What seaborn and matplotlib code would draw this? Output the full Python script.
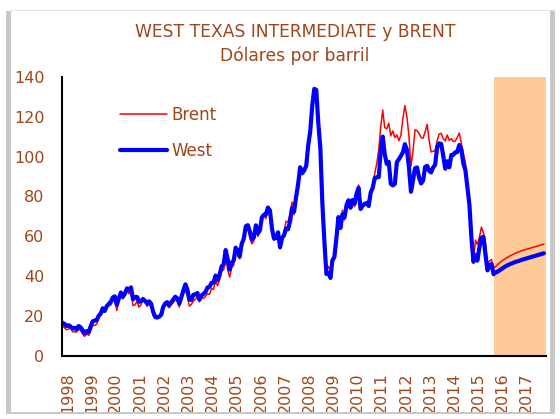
import numpy as np
import pandas as pd
import matplotlib
matplotlib.use("Agg")
import matplotlib.pyplot as plt
import matplotlib.transforms as mtransforms
from matplotlib.patches import Rectangle
import seaborn as sns

# monthly averages, USD per barrel, Jan 1998 - Nov 2015 observed, Dec 2015 - Dec 2017 projected
wti_hist = [
    16.7, 16.1, 15.0, 15.4, 14.9, 13.7, 14.1, 13.4, 15.0, 14.4, 12.9, 11.3,   # 1998
    12.5, 12.0, 14.7, 17.3, 17.8, 17.9, 20.1, 21.3, 23.9, 22.6, 25.0, 26.1,   # 1999
    27.2, 29.4, 29.9, 25.7, 28.8, 31.8, 29.7, 31.3, 33.9, 33.1, 34.4, 28.4,   # 2000
    29.6, 29.6, 27.2, 27.4, 28.6, 27.6, 26.4, 27.4, 26.2, 22.2, 19.6, 19.3,   # 2001
    19.7, 20.7, 24.4, 26.3, 27.0, 25.5, 26.9, 28.4, 29.7, 28.9, 26.3, 29.4,   # 2002
    32.9, 35.9, 33.5, 28.3, 28.1, 30.7, 30.8, 31.6, 28.3, 30.3, 31.1, 32.1,   # 2003
    34.3, 34.7, 36.7, 36.7, 40.3, 38.0, 40.7, 44.9, 45.9, 53.1, 48.5, 43.3,   # 2004
    46.8, 48.0, 54.3, 53.0, 49.8, 56.3, 58.7, 65.0, 65.6, 62.4, 58.3, 59.4,   # 2005
    65.5, 61.6, 62.9, 69.4, 70.8, 70.9, 74.4, 73.0, 63.8, 58.9, 59.1, 62.0,   # 2006
    54.5, 59.3, 60.4, 63.9, 63.5, 67.5, 74.1, 72.4, 79.9, 86.2, 94.6, 91.7,   # 2007
    93.0, 95.4, 105.5, 112.6, 125.4, 133.9, 133.4, 116.7, 104.1, 76.6, 57.3, 41.1,  # 2008
    41.7, 39.1, 47.9, 49.6, 59.0, 69.6, 64.2, 71.1, 69.5, 75.6, 78.1, 74.3,   # 2009
    78.2, 76.4, 81.2, 84.3, 73.7, 75.3, 76.3, 76.6, 75.2, 81.9, 84.3, 89.2,   # 2010
    89.6, 89.7, 102.9, 110.0, 101.3, 96.3, 97.3, 86.3, 85.5, 86.3, 97.2, 98.6,  # 2011
    100.3, 102.2, 106.2, 103.3, 94.7, 82.3, 87.9, 94.1, 94.5, 89.5, 86.5, 87.9,  # 2012
    94.8, 95.3, 92.9, 92.0, 94.5, 95.8, 104.6, 106.6, 106.3, 100.5, 93.9, 97.6,  # 2013
    94.6, 100.8, 100.8, 102.1, 102.2, 105.8, 103.6, 96.5, 93.2, 84.4, 75.8, 59.3,  # 2014
    47.2, 50.6, 47.8, 54.5, 59.3, 59.8, 50.9, 42.9, 45.5, 46.2, 41.0,          # 2015
]
wti_proj = [
    41.8,                                                                     # Dec 2015
    42.3, 43.0, 43.7, 44.4, 45.0, 45.5, 46.0, 46.4, 46.8, 47.2, 47.5, 47.8,   # 2016
    48.2, 48.5, 48.8, 49.1, 49.4, 49.7, 50.0, 50.3, 50.6, 50.9, 51.2, 51.5,   # 2017
]
brent_hist = [
    15.1, 14.1, 13.2, 13.4, 14.4, 12.2, 12.1, 12.0, 13.4, 12.7, 11.0, 9.8,    # 1998
    11.1, 10.3, 12.5, 15.3, 15.3, 15.9, 19.0, 20.3, 22.5, 22.0, 24.6, 25.5,   # 1999
    25.5, 27.8, 27.5, 22.8, 27.6, 29.8, 28.6, 30.4, 32.9, 31.1, 32.6, 25.3,   # 2000
    25.6, 27.5, 24.5, 25.6, 28.5, 27.8, 24.9, 25.7, 25.7, 20.5, 18.9, 18.7,   # 2001
    19.4, 20.3, 23.7, 25.7, 25.4, 24.1, 25.7, 26.7, 28.4, 27.5, 24.5, 28.2,   # 2002
    31.2, 32.8, 30.3, 25.0, 25.8, 27.6, 28.4, 29.8, 27.1, 29.6, 28.8, 29.8,   # 2003
    31.2, 30.9, 33.8, 33.4, 37.6, 35.2, 38.2, 42.7, 43.2, 49.8, 43.1, 39.6,   # 2004
    44.5, 45.5, 53.1, 51.9, 48.7, 54.3, 57.5, 63.9, 63.8, 59.5, 56.2, 57.6,   # 2005
    63.9, 59.9, 62.3, 70.4, 70.8, 68.8, 73.6, 73.2, 62.5, 58.0, 58.8, 62.0,   # 2006
    53.7, 57.6, 62.1, 67.5, 67.2, 71.3, 77.2, 70.8, 77.1, 82.3, 92.4, 90.9,   # 2007
    92.2, 94.8, 103.3, 110.2, 124.6, 133.5, 133.9, 113.0, 98.1, 72.8, 53.2, 41.6,  # 2008
    44.9, 43.2, 46.8, 50.8, 58.6, 69.3, 65.8, 73.1, 68.2, 73.9, 77.5, 75.2,   # 2009
    77.0, 74.8, 79.9, 85.8, 77.0, 75.7, 75.4, 77.1, 78.4, 83.0, 86.0, 91.5,   # 2010
    96.5, 103.7, 114.6, 123.3, 114.5, 113.9, 116.7, 110.4, 112.8, 109.5, 110.8, 107.9,  # 2011
    110.7, 119.3, 125.5, 119.8, 110.3, 95.2, 102.6, 113.4, 113.0, 111.5, 109.5, 109.2,  # 2012
    112.3, 116.1, 108.5, 102.3, 102.6, 102.9, 107.9, 111.3, 111.6, 109.1, 107.8, 110.8,  # 2013
    108.1, 108.9, 107.5, 107.8, 109.5, 111.8, 106.8, 101.6, 97.1, 87.4, 79.4, 62.3,  # 2014
    47.8, 58.1, 55.9, 59.5, 64.6, 61.7, 56.8, 46.5, 47.6, 48.4, 44.3,          # 2015
]
brent_proj = [
    44.8,                                                                     # Dec 2015
    45.8, 46.7, 47.5, 48.2, 48.9, 49.5, 50.1, 50.6, 51.1, 51.6, 52.0, 52.4,   # 2016
    52.8, 53.1, 53.4, 53.7, 54.0, 54.3, 54.6, 54.9, 55.2, 55.5, 55.8, 56.0,   # 2017
]
years = list(range(1998, 2018))
proj_start = "2015-11-01"

TXT = "#a0461a"
SHADE = "#fdca98"

dates = pd.date_range("1998-01-01", periods=len(wti_hist) + len(wti_proj), freq="MS")
df = pd.DataFrame({
    "fecha": dates,
    "Brent": brent_hist + brent_proj,
    "West": wti_hist + wti_proj,
})

sns.set_style("white")
plt.rcParams["font.family"] = ["DejaVu Sans"]

fig = plt.figure(figsize=(5.6, 4.19), dpi=100)
ax = fig.add_axes([0.1116, 0.1504, 0.8634, 0.6665])

ax.axvspan(pd.Timestamp(proj_start), pd.Timestamp("2018-01-01"), color=SHADE, lw=0, zorder=0)
sns.lineplot(data=df, x="fecha", y="Brent", color="#ff0000", linewidth=1.1, label="Brent", ax=ax)
sns.lineplot(data=df, x="fecha", y="West", color="#0000ff", linewidth=3.0, label="West", ax=ax)

ax.set_xlim(pd.Timestamp("1998-01-01"), pd.Timestamp("2018-01-01"))
ax.set_ylim(0, 140)
ax.set_yticks(range(0, 141, 20))
ticks = [pd.Timestamp(f"{y}-01-01") for y in years + [2018]]
ax.set_xticks(ticks)
ax.set_xticklabels([str(y) for y in years] + [""], rotation=90)
ax.set_xlabel("")
ax.set_ylabel("")

for s in ["top", "right"]:
    ax.spines[s].set_visible(False)
for s in ["left", "bottom"]:
    ax.spines[s].set_color("black")
    ax.spines[s].set_linewidth(1.5)
ax.tick_params(axis="both", direction="out", length=4, width=1.2, color="black",
               labelcolor=TXT, labelsize=11.5)
ax.tick_params(axis="y", pad=9)
ax.tick_params(axis="x", pad=8)
shift = mtransforms.ScaledTranslation(0.05, 0, fig.dpi_scale_trans)
for lab in ax.get_xticklabels():
    lab.set_transform(lab.get_transform() + shift)

ax.legend(loc="upper left", bbox_to_anchor=(120 / 560, 1 - 106 / 419),
          bbox_transform=fig.transFigure, frameon=False, fontsize=12,
          labelcolor=TXT, handlelength=2.8, handletextpad=0.3,
          labelspacing=1.05, borderpad=0, borderaxespad=0)

fig.text(0.527, 1 - 32 / 419, "WEST TEXAS INTERMEDIATE y BRENT", ha="center", va="center",
         color=TXT, fontsize=12.3)
fig.text(0.527, 1 - 56 / 419, "Dólares por barril", ha="center", va="center",
         color=TXT, fontsize=12.3)

# chart frame
top, bot = 1 - 11 / 419, 1 - 414 / 419
fig.add_artist(Rectangle((6 / 560, bot), 5 / 560, top - bot, transform=fig.transFigure,
                         color="#c8c8c8", lw=0))
fig.add_artist(Rectangle((550 / 560, bot), 5 / 560, top - bot, transform=fig.transFigure,
                         color="#c8c8c8", lw=0))
fig.add_artist(Rectangle((6 / 560, bot), 549 / 560, 2 / 419, transform=fig.transFigure,
                         color="#c8c8c8", lw=0))
fig.add_artist(Rectangle((10 / 560, top), 545 / 560, 1 / 419, transform=fig.transFigure,
                         color="#e0e0e0", lw=0))

fig.savefig("out.png", dpi=100)
